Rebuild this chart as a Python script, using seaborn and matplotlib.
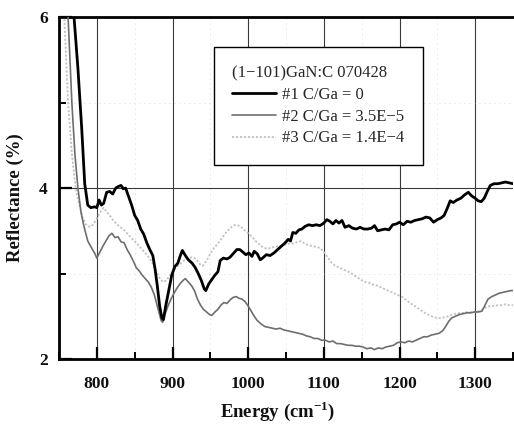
import numpy as np
import pandas as pd
import matplotlib
matplotlib.use("Agg")
import matplotlib.pyplot as plt
import seaborn as sns
from matplotlib.ticker import MultipleLocator

# ---------------- data ----------------
energy_1 = [764, 769, 775, 780, 784, 788, 792, 797, 800, 803, 806, 809, 813, 817, 821, 825, 829, 832,
            835, 838, 842, 846, 850, 854, 858, 862, 866, 870, 874, 877, 880, 883, 886, 888, 891, 895,
            899, 903, 907, 910, 913, 917, 921, 926, 930, 934, 938, 942, 944, 948, 952, 956, 960, 963,
            967, 972, 976, 980, 985, 989, 993, 997, 1001, 1005, 1008, 1012, 1016, 1019, 1024, 1029,
            1034, 1039, 1044, 1049, 1053, 1056, 1059, 1063, 1067, 1071, 1075, 1080, 1085, 1090, 1095,
            1100, 1104, 1108, 1112, 1116, 1120, 1124, 1128, 1133, 1138, 1143, 1148, 1153, 1158, 1163,
            1167, 1171, 1176, 1181, 1186, 1191, 1196, 1200, 1205, 1210, 1215, 1220, 1225, 1230, 1235,
            1240, 1245, 1250, 1255, 1259, 1263, 1267, 1271, 1276, 1281, 1286, 1291, 1295, 1300, 1304,
            1308, 1312, 1316, 1320, 1325, 1330, 1335, 1340, 1345, 1350]
refl_1 = [6.8, 6.1, 5.4, 4.7, 4.05, 3.80, 3.77, 3.78, 3.77, 3.86, 3.80, 3.82, 3.95, 3.96, 3.93, 4.00,
          4.02, 4.03, 3.99, 4.00, 3.90, 3.80, 3.68, 3.62, 3.52, 3.46, 3.36, 3.28, 3.21, 3.05, 2.85,
          2.62, 2.48, 2.46, 2.62, 2.80, 2.98, 3.08, 3.12, 3.20, 3.27, 3.21, 3.16, 3.12, 3.07, 3.00,
          2.92, 2.82, 2.80, 2.88, 2.93, 2.98, 3.02, 3.15, 3.18, 3.17, 3.19, 3.23, 3.28, 3.28, 3.25,
          3.22, 3.24, 3.20, 3.26, 3.23, 3.16, 3.18, 3.22, 3.21, 3.24, 3.28, 3.32, 3.36, 3.40, 3.38,
          3.48, 3.47, 3.51, 3.52, 3.55, 3.57, 3.56, 3.57, 3.56, 3.59, 3.63, 3.61, 3.58, 3.62, 3.59,
          3.62, 3.54, 3.56, 3.53, 3.52, 3.54, 3.52, 3.52, 3.53, 3.56, 3.50, 3.51, 3.52, 3.51, 3.57,
          3.58, 3.60, 3.57, 3.61, 3.60, 3.62, 3.63, 3.64, 3.66, 3.65, 3.60, 3.63, 3.65, 3.68, 3.76,
          3.85, 3.83, 3.86, 3.88, 3.92, 3.95, 3.91, 3.88, 3.85, 3.84, 3.88, 3.96, 4.03, 4.05, 4.05,
          4.06, 4.07, 4.06, 4.05]

energy_2 = [755, 762, 767, 771, 775, 779, 783, 788, 793, 797, 800, 804, 808, 812, 816, 820, 824, 828,
            832, 836, 840, 844, 848, 852, 856, 860, 864, 868, 872, 876, 879, 882, 885, 887, 890, 894,
            898, 902, 906, 910, 914, 917, 921, 925, 929, 933, 937, 941, 945, 949, 952, 956, 960, 964,
            968, 972, 976, 980, 984, 988, 992, 996, 1000, 1004, 1008, 1012, 1017, 1022, 1027, 1032,
            1037, 1042, 1047, 1052, 1057, 1062, 1067, 1072, 1077, 1082, 1087, 1092, 1097, 1102, 1107,
            1112, 1117, 1122, 1127, 1132, 1137, 1142, 1147, 1152, 1157, 1162, 1167, 1172, 1177, 1182,
            1187, 1192, 1197, 1202, 1207, 1212, 1217, 1222, 1227, 1232, 1237, 1242, 1247, 1252, 1257,
            1261, 1265, 1269, 1274, 1279, 1284, 1289, 1294, 1299, 1304, 1309, 1313, 1317, 1322, 1327,
            1332, 1337, 1342, 1347, 1350]
refl_2 = [7.5, 6.0, 5.0, 4.4, 4.0, 3.72, 3.55, 3.38, 3.30, 3.24, 3.18, 3.25, 3.32, 3.38, 3.44, 3.47,
          3.42, 3.43, 3.37, 3.36, 3.28, 3.22, 3.15, 3.07, 3.03, 2.98, 2.94, 2.90, 2.84, 2.75, 2.65,
          2.55, 2.45, 2.43, 2.52, 2.62, 2.70, 2.77, 2.83, 2.88, 2.92, 2.94, 2.90, 2.86, 2.80, 2.70,
          2.63, 2.58, 2.55, 2.52, 2.51, 2.55, 2.58, 2.63, 2.66, 2.65, 2.69, 2.72, 2.73, 2.71, 2.70,
          2.67, 2.62, 2.56, 2.50, 2.45, 2.41, 2.38, 2.37, 2.36, 2.35, 2.36, 2.34, 2.33, 2.32, 2.31,
          2.30, 2.29, 2.27, 2.26, 2.24, 2.24, 2.22, 2.22, 2.20, 2.21, 2.18, 2.18, 2.17, 2.16, 2.16,
          2.15, 2.15, 2.14, 2.12, 2.13, 2.11, 2.13, 2.12, 2.14, 2.15, 2.16, 2.19, 2.20, 2.19, 2.21,
          2.20, 2.22, 2.24, 2.26, 2.26, 2.28, 2.29, 2.30, 2.33, 2.38, 2.44, 2.48, 2.50, 2.52, 2.53,
          2.54, 2.54, 2.55, 2.55, 2.56, 2.63, 2.70, 2.73, 2.75, 2.77, 2.78, 2.79, 2.80, 2.80]

energy_3 = [750, 757, 762, 767, 772, 777, 781, 785, 789, 793, 797, 801, 805, 809, 813, 817, 821, 826,
            831, 836, 841, 846, 851, 856, 861, 866, 871, 876, 880, 884, 888, 892, 896, 900, 905, 910,
            915, 920, 926, 931, 936, 940, 945, 950, 955, 960, 965, 970, 975, 980, 985, 990, 995, 1000,
            1005, 1010, 1015, 1020, 1025, 1030, 1035, 1040, 1045, 1050, 1055, 1060, 1065, 1070, 1075,
            1080, 1085, 1090, 1095, 1100, 1105, 1110, 1115, 1120, 1125, 1130, 1135, 1140, 1145, 1150,
            1155, 1160, 1165, 1170, 1175, 1180, 1185, 1190, 1195, 1200, 1205, 1210, 1215, 1220, 1225,
            1230, 1235, 1240, 1245, 1250, 1255, 1260, 1265, 1270, 1275, 1280, 1285, 1290, 1295, 1300,
            1305, 1310, 1315, 1320, 1325, 1330, 1335, 1340, 1345, 1350]
refl_3 = [7.5, 6.0, 5.0, 4.4, 4.0, 3.80, 3.66, 3.58, 3.55, 3.55, 3.60, 3.66, 3.72, 3.77, 3.72, 3.68,
          3.63, 3.58, 3.54, 3.51, 3.46, 3.41, 3.37, 3.32, 3.27, 3.22, 3.16, 3.08, 3.00, 2.93, 2.90,
          2.92, 2.97, 3.02, 3.07, 3.11, 3.15, 3.18, 3.19, 3.17, 3.11, 3.09, 3.15, 3.23, 3.30, 3.35,
          3.41, 3.47, 3.52, 3.56, 3.57, 3.55, 3.51, 3.47, 3.43, 3.38, 3.34, 3.30, 3.29, 3.30, 3.31,
          3.32, 3.33, 3.34, 3.35, 3.35, 3.37, 3.38, 3.35, 3.33, 3.32, 3.31, 3.30, 3.25, 3.19, 3.13,
          3.09, 3.07, 3.05, 3.03, 3.01, 2.98, 2.95, 2.92, 2.90, 2.89, 2.87, 2.86, 2.84, 2.82, 2.80,
          2.78, 2.76, 2.74, 2.72, 2.68, 2.65, 2.62, 2.59, 2.56, 2.53, 2.51, 2.49, 2.48, 2.48, 2.49,
          2.50, 2.52, 2.53, 2.54, 2.54, 2.55, 2.55, 2.55, 2.56, 2.58, 2.61, 2.62, 2.62, 2.63, 2.63,
          2.64, 2.63, 2.63]

labels = ["#1 C/Ga = 0", "#2 C/Ga = 3.5E\u22125", "#3 C/Ga = 1.4E\u22124"]
legend_title = "(1\u2212101)GaN:C 070428"
x_ticks = [800, 900, 1000, 1100, 1200, 1300]
y_ticks = [2, 4, 6]

# ---------------- style ----------------
sns.set_theme(style="white")
plt.rcParams["font.family"] = ["Liberation Serif", "DejaVu Serif"]
plt.rcParams["mathtext.fontset"] = "custom"
plt.rcParams["mathtext.rm"] = "Liberation Serif"
plt.rcParams["mathtext.bf"] = "Liberation Serif:bold"

fig = plt.figure(figsize=(5.14, 4.24), dpi=100)
ax = fig.add_axes([59 / 514, 1 - 359 / 424, 454 / 514, 342 / 424])

sns.lineplot(x=energy_1, y=refl_1, ax=ax, color="black", linewidth=2.0,
             label=labels[0], sort=False, zorder=5)
sns.lineplot(x=energy_2, y=refl_2, ax=ax, color="#6e6e6e", linewidth=1.2,
             label=labels[1], sort=False, zorder=4)
sns.lineplot(x=energy_3, y=refl_3, ax=ax, color="#c2c2c2", linewidth=1.3,
             linestyle=(0, (1.2, 1.0)), label=labels[2], sort=False, zorder=3)

ax.set_xlim(750, 1350)
ax.set_ylim(2, 6)
ax.set_xticks(x_ticks)
ax.set_yticks(y_ticks)
ax.xaxis.set_minor_locator(MultipleLocator(50))
ax.yaxis.set_minor_locator(MultipleLocator(1))

ax.grid(True, which="major", color="#3a3a3a", linewidth=0.8)
ax.grid(True, which="minor", color="#cfcfcf", linewidth=0.6, linestyle=(0, (1, 5)))

for side in ["left", "bottom", "top"]:
    ax.spines[side].set_visible(True)
    ax.spines[side].set_color("black")
    ax.spines[side].set_linewidth(2.0)
ax.spines["right"].set_visible(False)

ax.tick_params(axis="both", which="major", direction="in", length=9, width=1.6,
               colors="black", bottom=True, left=True, top=False, right=False)
ax.tick_params(axis="both", which="minor", direction="in", length=5, width=1.4,
               colors="black", bottom=True, left=True, top=False, right=False)
ax.tick_params(axis="x", which="major", pad=12)
ax.tick_params(axis="y", which="major", pad=8)
for lab in ax.get_xticklabels() + ax.get_yticklabels():
    lab.set_fontsize(12.5)
    lab.set_fontweight("bold")
    lab.set_color("#111111")

ax.set_xlabel("Energy (cm$^{\\mathbf{-1}}$)", fontsize=13.5, fontweight="bold", color="#111111")
ax.set_ylabel("Reflectance (%)", fontsize=13.5, fontweight="bold", color="#111111")
ax.xaxis.set_label_coords((278 - 59) / 454, (359 - 411) / 342)
ax.xaxis.label.set_va("center")
ax.yaxis.set_label_coords((15 - 59) / 454, (359 - 198) / 342)
ax.yaxis.label.set_va("center")

leg = ax.legend(loc="upper left", bbox_to_anchor=((214 - 59) / 454, 1 - (47 - 17) / 342),
                borderaxespad=0, title=legend_title, alignment="left", fontsize=12,
                title_fontsize=12, frameon=True, fancybox=False, shadow=False,
                handlelength=2.6, handletextpad=0.4, borderpad=1.1, labelspacing=0.34)
leg.get_frame().set_edgecolor("black")
leg.get_frame().set_linewidth(1.0)
leg.get_frame().set_facecolor("white")
leg.get_frame().set_alpha(1.0)
leg.set_zorder(10)

fig.savefig("out.png", dpi=100)
